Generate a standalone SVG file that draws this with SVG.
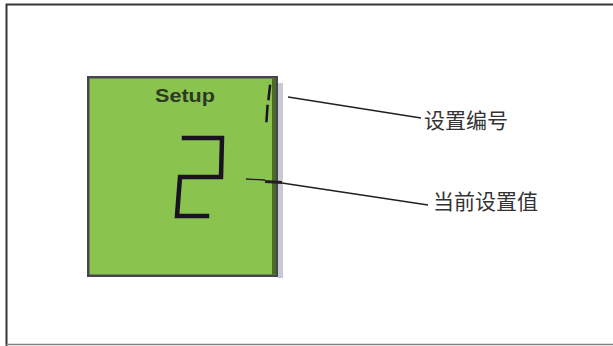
<svg xmlns="http://www.w3.org/2000/svg" width="613" height="346" viewBox="0 0 613 346">
<style>
.lbl{font-family:"Liberation Sans","Noto Sans CJK SC",sans-serif;font-size:21px;fill:#333333}
.seg{stroke:#1a1220;stroke-width:4.5;fill:none;stroke-linecap:square}
.lead{stroke:#231f20;stroke-width:1.3;fill:none}
</style>
<rect width="613" height="346" fill="#ffffff"/>
<g id="frame">
<path d="M6.5 346 V4.5 H613" fill="none" stroke="#3a3436" stroke-width="2"/>
<line x1="6" y1="344.5" x2="613" y2="344.5" stroke="#808080" stroke-width="1.5"/>
</g>
<g id="lcd">
<rect x="278" y="83" width="5" height="195" fill="#c9c9d1"/>
<rect x="87" y="76" width="191" height="201" fill="#4a4350"/>
<rect x="89.5" y="78.5" width="186" height="196" fill="#8bc34f"/>
<rect x="272" y="78.5" width="4" height="196" fill="#4c6a2a"/>
<text x="155" y="102" textLength="60" lengthAdjust="spacingAndGlyphs" font-family="Liberation Sans, sans-serif" font-weight="bold" font-size="18" fill="#2c3a22">Setup</text>
<path class="seg" d="M270 86 L268.5 99 M267.5 106 L266.5 121" style="stroke-width:2.5"/>
<path class="seg" d="M184 138 H222 L221 177 H180 L177 216 H207"/>
</g>
<g id="connectors">
<path class="lead" d="M288 97 L421 118"/>
<path class="lead" d="M246 179 L265 180"/>
<path d="M265 181.5 L282 182.5" stroke="#231f20" stroke-width="3"/>
<path class="lead" d="M282 183 L428 205"/>
</g>
<g id="label1"><text class="lbl" x="424" y="128">设置编号</text></g>
<g id="label2"><text class="lbl" x="433" y="209">当前设置值</text></g>
</svg>
